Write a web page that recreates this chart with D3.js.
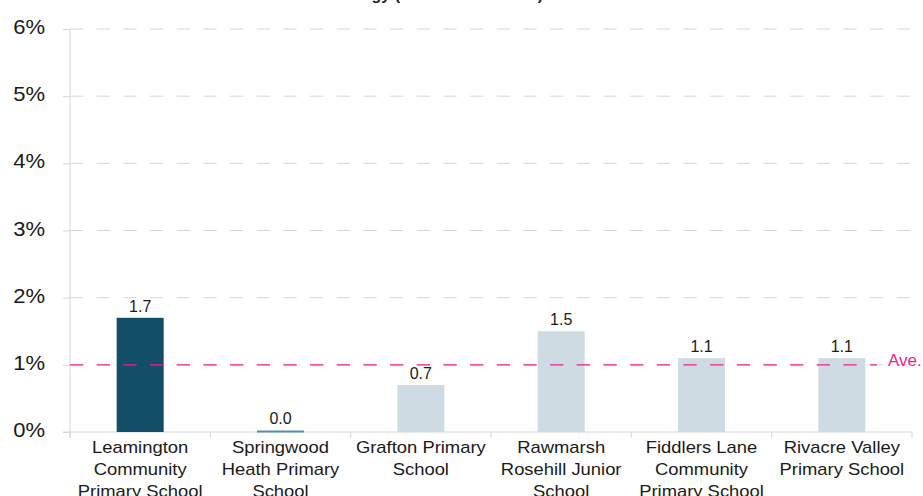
<!DOCTYPE html>
<html>
<head>
<meta charset="utf-8">
<script src="https://cdn.jsdelivr.net/npm/d3@7"></script>
<style>
  html, body { margin: 0; padding: 0; background: #fff; }
  svg { display: block; font-family: "Liberation Sans", Arial, sans-serif; }
</style>
</head>
<body>
<svg id="chart" width="923" height="496"></svg>
<script>
// ---- data ----
const categories = [
  ["Leamington", "Community", "Primary School"],
  ["Springwood", "Heath Primary", "School"],
  ["Grafton Primary", "School"],
  ["Rawmarsh", "Rosehill Junior", "School"],
  ["Fiddlers Lane", "Community", "Primary School"],
  ["Rivacre Valley", "Primary School"]
];
const values = [1.7, 0.0, 0.7, 1.5, 1.1, 1.1];
const barKinds = ["focus", "zero", "other", "other", "other", "other"];
const yTicks = [0, 1, 2, 3, 4, 5, 6];
const yTickLabels = ["0%", "1%", "2%", "3%", "4%", "5%", "6%"];
const averageValue = 1.0;
const averageLabel = "Ave.";
const titleText = "Energy (% of total revenue)";

// ---- layout ----
const svg = d3.select("#chart");
const plotLeft = 70, plotRight = 912, plotTop = 29, plotBottom = 432;
const keys = categories.map((c, i) => i);
const x = d3.scaleBand().domain(keys).range([plotLeft, plotRight]).padding(0);
const y = d3.scaleLinear().domain([0, 6]).range([plotBottom, plotTop]);
const barW = x.bandwidth() * 0.335;
const colorFor = { focus: "#124e68", zero: "#5b8db3", other: "#cedbe3" };
const gridColor = "#d6d6d6";
const pink = "#f51d8f";

// title (mostly clipped at the top)
svg.append("text").attr("x", 336).attr("y", 0)
  .attr("font-weight", "bold").attr("font-size", 16).attr("fill", "#222")
  .text(titleText);

// gridlines
svg.append("g").selectAll("line").data(yTicks.filter(t => t > 0)).join("line")
  .attr("x1", plotLeft).attr("x2", plotRight)
  .attr("y1", d => y(d)).attr("y2", d => y(d))
  .attr("stroke", gridColor).attr("stroke-width", 1)
  .attr("stroke-dasharray", "13.3,13.37");

// y axis
const yAxis = d3.axisLeft(y).tickValues(yTicks).tickSize(7).tickFormat("");
const yg = svg.append("g").attr("transform", `translate(${plotLeft},0)`).call(yAxis);
yg.select(".domain").remove();
yg.selectAll(".tick line").attr("stroke", gridColor);
svg.append("line").attr("x1", plotLeft).attr("x2", plotLeft).attr("y1", plotTop).attr("y2", plotBottom + 6)
  .attr("stroke", gridColor);

// y labels
svg.append("g").selectAll("g").data(yTicks).join("g")
  .attr("transform", d => `translate(45,${y(d) + 5}) scale(1.1,1)`)
  .append("text").attr("text-anchor", "end").attr("font-size", 20).attr("fill", "#1a1a1a")
  .text((d, i) => yTickLabels[i]);

// x axis line and boundary ticks
svg.append("line").attr("x1", plotLeft - 7).attr("x2", plotRight).attr("y1", plotBottom).attr("y2", plotBottom)
  .attr("stroke", gridColor);
const bounds = keys.map(k => x(k)).concat([plotRight]);
svg.append("g").selectAll("line").data(bounds).join("line")
  .attr("x1", d => d).attr("x2", d => d).attr("y1", plotBottom).attr("y2", plotBottom + 6)
  .attr("stroke", gridColor);

// bars
svg.append("g").selectAll("rect").data(values).join("rect")
  .attr("x", (d, i) => x(i) + x.bandwidth() / 2 - barW / 2)
  .attr("width", barW)
  .attr("y", (d, i) => barKinds[i] === "zero" ? y(d) - 1.5 : y(d))
  .attr("height", (d, i) => barKinds[i] === "zero" ? 2 : y(0) - y(d))
  .attr("fill", (d, i) => colorFor[barKinds[i]]);

// average line
svg.append("line").attr("x1", plotLeft).attr("x2", 877)
  .attr("y1", y(averageValue)).attr("y2", y(averageValue))
  .attr("stroke", pink).attr("stroke-width", 1.2)
  .attr("stroke-dasharray", "13.3,13.37");
svg.append("text").attr("x", 888).attr("y", y(averageValue) + 1.5)
  .attr("font-size", 17).attr("fill", pink).text(averageLabel);

// value labels
svg.append("g").selectAll("text").data(values).join("text")
  .attr("x", (d, i) => x(i) + x.bandwidth() / 2)
  .attr("y", (d, i) => y(d) - (barKinds[i] === "zero" ? 8 : 6.3))
  .attr("text-anchor", "middle").attr("font-size", 16).attr("fill", "#1a1a1a")
  .text(d => d.toFixed(1));

// category labels
const lab = svg.append("g").selectAll("g").data(categories).join("g");
lab.each(function(lines, i) {
  const g = d3.select(this);
  lines.forEach((ln, j) => {
    g.append("g")
      .attr("transform", `translate(${x(i) + x.bandwidth() / 2},${453.3 + j * 21.6}) scale(1.15,1)`)
      .append("text").attr("text-anchor", "middle").attr("font-size", 16).attr("fill", "#1a1a1a")
      .text(ln);
  });
});
</script>
</body>
</html>
